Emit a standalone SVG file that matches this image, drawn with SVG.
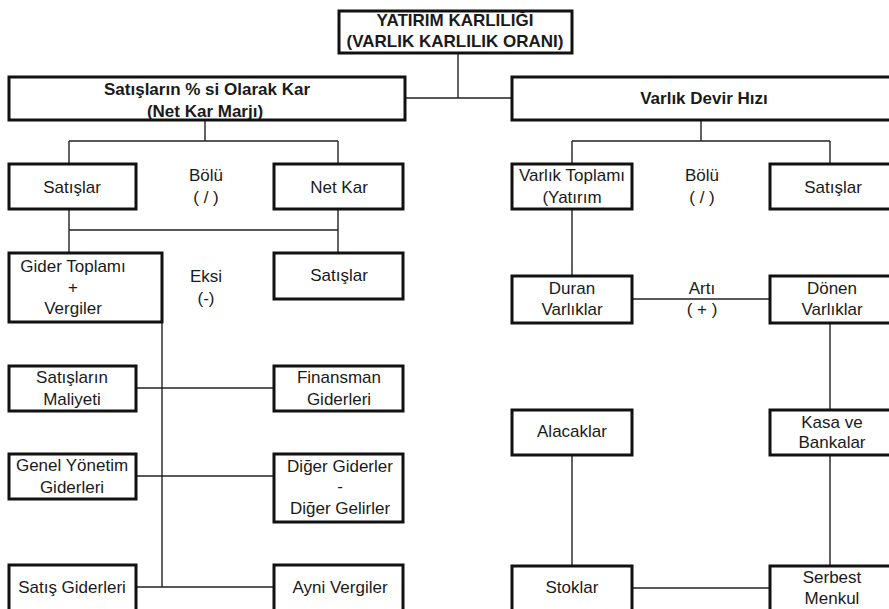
<svg xmlns="http://www.w3.org/2000/svg" width="889" height="609" viewBox="0 0 889 609">
<style>
.box{fill:#fff;stroke:#111;stroke-width:3}
.t{font-family:"Liberation Sans",Arial,sans-serif;font-size:17px;fill:#1a1a1a;text-anchor:middle}
.b{font-weight:bold}
.c{stroke:#222;stroke-width:1.4;fill:none}
</style>
<rect width="889" height="609" fill="#fff"/>
<g id="connectors">
<path class="c" d="M458 53V98M405 98H512"/>
<path class="c" d="M205 120V141M69 141H338M69 141V164M338 141V164"/>
<path class="c" d="M69 209V253M69 230H338M338 209V253"/>
<path class="c" d="M162 322V587M136 388H274M136 476H274M136 587H274"/>
<path class="c" d="M701 120V141M572 141H830M572 141V164M830 141V164"/>
<path class="c" d="M572 209V276M632 299H770"/>
<path class="c" d="M830 323V410M830 455V565"/>
<path class="c" d="M572 455V566M632 588H770"/>
</g>
<g id="n-top"><rect class="box" x="339" y="11" width="233" height="42"/><text class="t b" x="455" y="26">YATIRIM KARLILIĞI</text><text class="t b" x="455" y="47">(VARLIK KARLILIK ORANI)</text></g>
<g id="n-netkarmarji"><rect class="box" x="9" y="77" width="396" height="43"/><text class="t b" x="207" y="95">Satışların % si Olarak Kar</text><text class="t b" x="205" y="117">(Net Kar Marjı)</text></g>
<g id="n-devirhizi"><rect class="box" x="512" y="77" width="386" height="43"/><text class="t b" x="704" y="104">Varlık Devir Hızı</text></g>
<g id="n-satislar1"><rect class="box" x="9" y="164" width="127" height="45"/><text class="t" x="72" y="193">Satışlar</text></g>
<g id="l-bolu1"><text class="t" x="206" y="181">Bölü</text><text class="t" x="206" y="203">( / )</text></g>
<g id="n-netkar"><rect class="box" x="274" y="164" width="129" height="45"/><text class="t" x="339" y="193">Net Kar</text></g>
<g id="n-gider"><rect class="box" x="9" y="253" width="153" height="69"/><text class="t" x="73" y="272">Gider Toplamı</text><text class="t" x="73" y="293">+</text><text class="t" x="73" y="314">Vergiler</text></g>
<g id="l-eksi"><text class="t" x="206" y="282">Eksi</text><text class="t" x="206" y="304">(-)</text></g>
<g id="n-satislar2"><rect class="box" x="274" y="253" width="129" height="46"/><text class="t" x="339" y="281">Satışlar</text></g>
<g id="n-maliyet"><rect class="box" x="9" y="366" width="127" height="45"/><text class="t" x="72" y="383">Satışların</text><text class="t" x="72" y="405">Maliyeti</text></g>
<g id="n-finansman"><rect class="box" x="274" y="366" width="129" height="45"/><text class="t" x="339" y="383">Finansman</text><text class="t" x="339" y="405">Giderleri</text></g>
<g id="n-genel"><rect class="box" x="9" y="454" width="127" height="45"/><text class="t" x="72" y="471">Genel Yönetim</text><text class="t" x="72" y="493">Giderleri</text></g>
<g id="n-diger"><rect class="box" x="274" y="454" width="129" height="68"/><text class="t" x="340" y="472">Diğer Giderler</text><text class="t" x="340" y="492">-</text><text class="t" x="340" y="514">Diğer Gelirler</text></g>
<g id="n-satisgider"><rect class="box" x="9" y="565" width="127" height="55"/><text class="t" x="72" y="593">Satış Giderleri</text></g>
<g id="n-ayni"><rect class="box" x="274" y="565" width="129" height="55"/><text class="t" x="340" y="593">Ayni Vergiler</text></g>
<g id="n-varliktoplami"><rect class="box" x="512" y="164" width="120" height="45"/><text class="t" x="572" y="181">Varlık Toplamı</text><text class="t" x="572" y="203">(Yatırım</text></g>
<g id="l-bolu2"><text class="t" x="702" y="181">Bölü</text><text class="t" x="702" y="203">( / )</text></g>
<g id="n-satislar3"><rect class="box" x="770" y="164" width="126" height="45"/><text class="t" x="833" y="193">Satışlar</text></g>
<g id="n-duran"><rect class="box" x="512" y="276" width="120" height="47"/><text class="t" x="572" y="294">Duran</text><text class="t" x="572" y="315">Varlıklar</text></g>
<g id="l-arti"><text class="t" x="702" y="294">Artı</text><text class="t" x="702" y="315">( + )</text></g>
<g id="n-donen"><rect class="box" x="770" y="276" width="126" height="47"/><text class="t" x="832" y="294">Dönen</text><text class="t" x="832" y="315">Varlıklar</text></g>
<g id="n-alacaklar"><rect class="box" x="512" y="410" width="120" height="45"/><text class="t" x="572" y="437">Alacaklar</text></g>
<g id="n-kasa"><rect class="box" x="770" y="410" width="126" height="45"/><text class="t" x="832" y="428">Kasa ve</text><text class="t" x="832" y="448">Bankalar</text></g>
<g id="n-stoklar"><rect class="box" x="512" y="566" width="120" height="55"/><text class="t" x="572" y="593">Stoklar</text></g>
<g id="n-serbest"><rect class="box" x="770" y="566" width="126" height="55"/><text class="t" x="832" y="583">Serbest</text><text class="t" x="832" y="604">Menkul</text></g>
</svg>
